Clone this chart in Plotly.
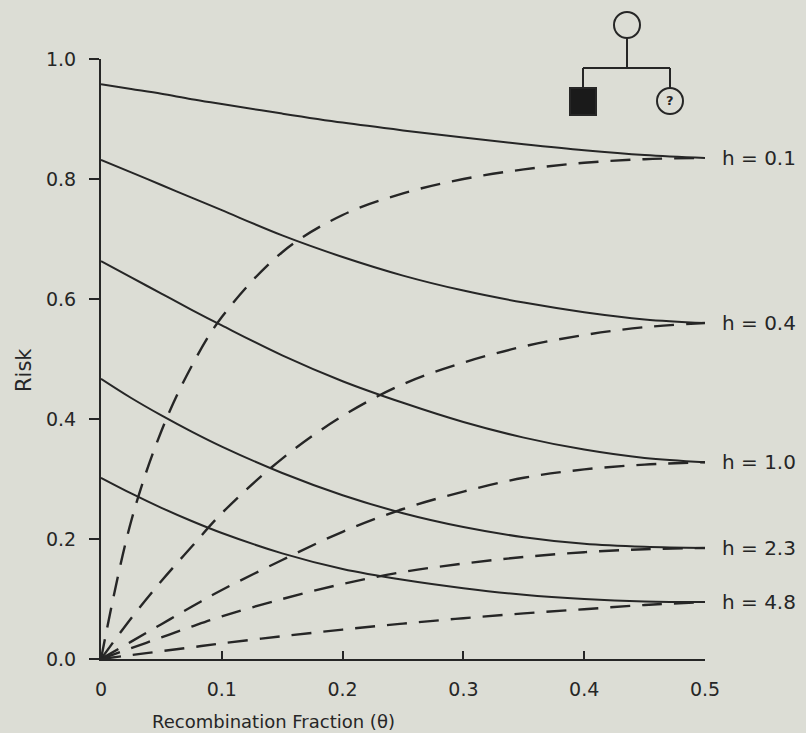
import plotly.graph_objects as go

# Recombination fraction (theta) grid used for every curve
theta = [0.0, 0.025, 0.05, 0.075, 0.1, 0.15, 0.2, 0.25, 0.3, 0.35, 0.4, 0.45, 0.5]

h_labels = ["h = 0.1", "h = 0.4", "h = 1.0", "h = 2.3", "h = 4.8"]

# Risk when the marker is shared (solid curves)
risk_solid_h01 = [0.958, 0.950, 0.942, 0.933, 0.925, 0.909, 0.894, 0.881, 0.869, 0.858, 0.848, 0.840, 0.835]
risk_solid_h04 = [0.832, 0.811, 0.790, 0.769, 0.748, 0.706, 0.670, 0.639, 0.614, 0.594, 0.578, 0.566, 0.560]
risk_solid_h10 = [0.663, 0.636, 0.609, 0.582, 0.556, 0.506, 0.463, 0.427, 0.395, 0.369, 0.349, 0.335, 0.328]
risk_solid_h23 = [0.467, 0.435, 0.406, 0.379, 0.354, 0.310, 0.273, 0.243, 0.220, 0.203, 0.192, 0.187, 0.185]
risk_solid_h48 = [0.302, 0.276, 0.252, 0.230, 0.210, 0.176, 0.150, 0.132, 0.118, 0.107, 0.100, 0.096, 0.095]

# Risk when the marker is not shared (dashed curves)
risk_dash_h01 = [0.0, 0.230, 0.380, 0.488, 0.570, 0.678, 0.740, 0.776, 0.800, 0.816, 0.827, 0.833, 0.835]
risk_dash_h04 = [0.0, 0.068, 0.130, 0.187, 0.243, 0.334, 0.405, 0.458, 0.494, 0.521, 0.540, 0.553, 0.560]
risk_dash_h10 = [0.0, 0.029, 0.058, 0.087, 0.115, 0.165, 0.212, 0.250, 0.279, 0.302, 0.316, 0.324, 0.328]
risk_dash_h23 = [0.0, 0.018, 0.036, 0.054, 0.071, 0.100, 0.125, 0.145, 0.159, 0.170, 0.178, 0.183, 0.185]
risk_dash_h48 = [0.0, 0.0065, 0.013, 0.0195, 0.026, 0.038, 0.049, 0.059, 0.068, 0.076, 0.083, 0.090, 0.095]

solid_series = [risk_solid_h01, risk_solid_h04, risk_solid_h10, risk_solid_h23, risk_solid_h48]
dash_series = [risk_dash_h01, risk_dash_h04, risk_dash_h10, risk_dash_h23, risk_dash_h48]

x_tickvals = [0, 0.1, 0.2, 0.3, 0.4, 0.5]
x_ticktext = ["0", "0.1", "0.2", "0.3", "0.4", "0.5"]
y_tickvals = [0.0, 0.2, 0.4, 0.6, 0.8, 1.0]
y_ticktext = ["0.0", "0.2", "0.4", "0.6", "0.8", "1.0"]

INK = "#262626"
BG = "#dcddd5"
FONT = "DejaVu Sans"

W, H = 806, 733
L, R, T, B = 101, 101, 59, 74

fig = go.Figure()

for ys in dash_series:
    fig.add_trace(go.Scatter(
        x=theta, y=ys, mode="lines",
        line=dict(color=INK, width=2.4, dash="20px,12px", shape="spline", smoothing=1.0),
        hoverinfo="skip", showlegend=False))

for ys in solid_series:
    fig.add_trace(go.Scatter(
        x=theta, y=ys, mode="lines",
        line=dict(color=INK, width=2.0, shape="spline", smoothing=1.0),
        hoverinfo="skip", showlegend=False))

# h labels at the right-hand ends of the curves
annotations = []
for lab, ys in zip(h_labels, solid_series):
    annotations.append(dict(
        x=theta[-1], y=ys[-1], xref="x", yref="y", text=lab, showarrow=False,
        xanchor="left", yanchor="middle", xshift=15,
        font=dict(family=FONT, size=20, color=INK)))

# Pedigree drawing (pixel positions converted to paper coordinates)
pw, ph = W - L - R, H - T - B


def px(xp):
    return (xp - L) / pw


def py(yp):
    return (H - B - yp) / ph


shape_line = dict(color=INK, width=2)
shapes = [
    dict(type="circle", xref="paper", yref="paper", x0=px(614), x1=px(640), y0=py(38), y1=py(12),
         line=shape_line, fillcolor=BG),
    dict(type="line", xref="paper", yref="paper", x0=px(627), x1=px(627), y0=py(38), y1=py(68), line=shape_line),
    dict(type="line", xref="paper", yref="paper", x0=px(583), x1=px(670), y0=py(68), y1=py(68), line=shape_line),
    dict(type="line", xref="paper", yref="paper", x0=px(583), x1=px(583), y0=py(68), y1=py(88), line=shape_line),
    dict(type="line", xref="paper", yref="paper", x0=px(670), x1=px(670), y0=py(68), y1=py(88), line=shape_line),
    dict(type="rect", xref="paper", yref="paper", x0=px(570), x1=px(596), y0=py(115), y1=py(88),
         line=shape_line, fillcolor="#1a1a1a"),
    dict(type="circle", xref="paper", yref="paper", x0=px(657), x1=px(683), y0=py(114), y1=py(88),
         line=shape_line, fillcolor=BG),
]
annotations.append(dict(x=px(670), y=py(101), xref="paper", yref="paper", text="<b>?</b>", showarrow=False,
                        xanchor="center", yanchor="middle",
                        font=dict(family=FONT, size=13, color=INK)))

# Axis titles
annotations.append(dict(x=px(24), y=py(370), xref="paper", yref="paper", text="Risk", showarrow=False,
                        textangle=-90, xanchor="center", yanchor="middle",
                        font=dict(family=FONT, size=21, color=INK)))
annotations.append(dict(x=px(273), y=py(721), xref="paper", yref="paper",
                        text="Recombination Fraction (θ)", showarrow=False,
                        xanchor="center", yanchor="middle",
                        font=dict(family=FONT, size=18, color=INK)))

fig.update_layout(
    width=W, height=H,
    margin=dict(l=L, r=R, t=T, b=B, pad=0),
    paper_bgcolor=BG, plot_bgcolor=BG,
    shapes=shapes, annotations=annotations,
    showlegend=False,
    xaxis=dict(range=[0, 0.5], tickvals=x_tickvals, ticktext=x_ticktext,
               ticks="inside", ticklen=8, tickwidth=2, tickcolor=INK,
               showline=True, linecolor=INK, linewidth=2, showgrid=False, zeroline=False,
               tickfont=dict(family=FONT, size=19, color=INK), ticklabelstandoff=12),
    yaxis=dict(range=[0, 1.0], tickvals=y_tickvals, ticktext=y_ticktext,
               ticks="outside", ticklen=10, tickwidth=2, tickcolor=INK,
               showline=True, linecolor=INK, linewidth=2, showgrid=False, zeroline=False,
               tickfont=dict(family=FONT, size=19, color=INK), ticklabelstandoff=9),
)

fig.write_html("out.html")
